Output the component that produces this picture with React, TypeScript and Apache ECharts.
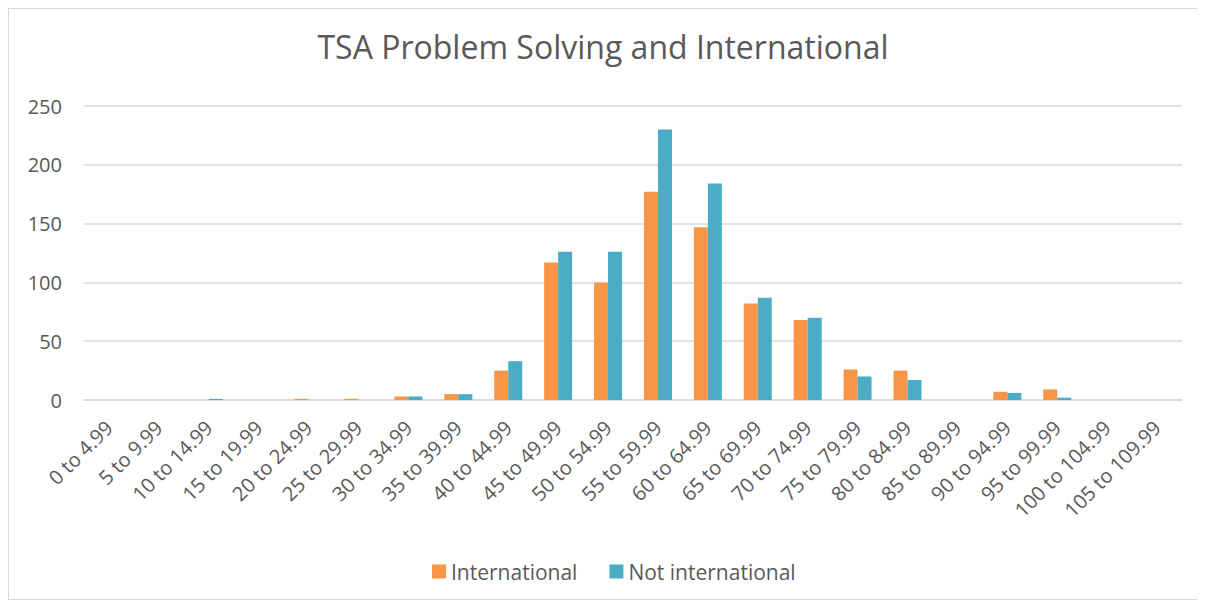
import React, { useEffect, useRef } from "react";
import * as echarts from "echarts";

const categories = [
  "0 to 4.99", "5 to 9.99", "10 to 14.99", "15 to 19.99", "20 to 24.99", "25 to 29.99",
  "30 to 34.99", "35 to 39.99", "40 to 44.99", "45 to 49.99", "50 to 54.99", "55 to 59.99",
  "60 to 64.99", "65 to 69.99", "70 to 74.99", "75 to 79.99", "80 to 84.99", "85 to 89.99",
  "90 to 94.99", "95 to 99.99", "100 to 104.99", "105 to 109.99",
];
const international = [0, 0, 0, 0, 1, 1, 3, 5, 25, 117, 100, 177, 147, 82, 68, 26, 25, 0, 7, 9, 0, 0];
const notInternational = [0, 0, 1, 0, 0, 0, 3, 5, 33, 126, 126, 230, 184, 87, 70, 20, 17, 0, 6, 2, 0, 0];
const yTicks = { min: 0, max: 250, interval: 50 };

const FONT = "'Open Sans', sans-serif";

export default function App() {
  const ref = useRef<HTMLDivElement>(null);
  useEffect(() => {
    if (!ref.current) return;
    const chart = echarts.init(ref.current, null, { renderer: "svg" });
    chart.setOption({
      animation: false,
      textStyle: { fontFamily: FONT },
      title: {
        text: "TSA Problem Solving and International",
        left: "center",
        top: 16,
        textStyle: { fontSize: 32, fontWeight: "normal", color: "#595959", fontFamily: FONT },
      },
      legend: {
        bottom: 12,
        left: 418,
        itemWidth: 14,
        itemHeight: 14,
        itemGap: 32,
        icon: "rect",
        textStyle: { fontSize: 21, color: "#595959", fontFamily: FONT },
        data: ["International", "Not international"],
      },
      grid: { left: 75, right: 15, top: 97, bottom: 199, containLabel: false },
      xAxis: {
        type: "category",
        data: categories,
        axisLine: { lineStyle: { color: "#d9d9d9", width: 1.5 } },
        axisTick: { show: false },
        axisLabel: { rotate: 45, fontSize: 20, color: "#595959", interval: 0, margin: 24, fontFamily: FONT },
      },
      yAxis: {
        type: "value",
        min: yTicks.min,
        max: yTicks.max,
        interval: yTicks.interval,
        axisLine: { show: false },
        axisTick: { show: false },
        splitLine: { lineStyle: { color: "#d9d9d9", width: 1.5 } },
        axisLabel: { fontSize: 20, color: "#595959", margin: 22, fontFamily: FONT },
      },
      series: [
        {
          name: "International",
          type: "bar",
          data: international,
          barWidth: 14,
          barGap: "0%",
          itemStyle: { color: "#F79646" },
        },
        {
          name: "Not international",
          type: "bar",
          data: notInternational,
          barWidth: 14,
          barGap: "0%",
          itemStyle: { color: "#4BACC6" },
        },
      ],
    });
    return () => chart.dispose();
  }, []);
  return (
    <div
      ref={ref}
      style={{ width: 1190, height: 592, border: "1px solid #d9d9d9", boxSizing: "border-box", background: "#fff" }}
    />
  );
}
